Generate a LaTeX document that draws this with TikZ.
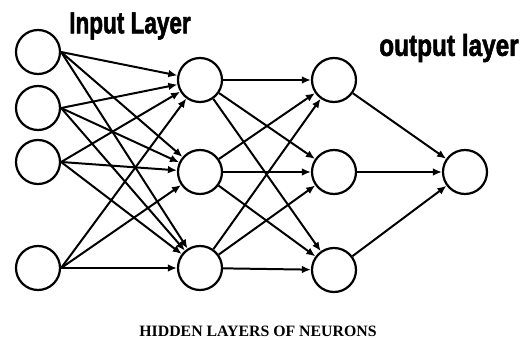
\documentclass[tikz,border=0pt]{standalone}
\usepackage{fontspec}
\usetikzlibrary{arrows.meta}
\newfontfamily\headfont{Liberation Sans}[BoldFeatures={FakeBold=2}]
\newfontfamily\capfont{Liberation Serif}

\begin{document}
\begin{tikzpicture}[
      x=0.03cm, y=-0.03cm,
      neuron/.style={draw, circle, line width=1.9pt, minimum size=1.32cm, inner sep=0pt},
      arr/.style={-{Latex[length=2.7mm, width=2.3mm]}, line width=1.7pt},
      head/.style={font=\headfont\bfseries\fontsize{26}{28}\selectfont},
    ]
    \useasboundingbox (0,0) rectangle (528,340);

    % input layer
    \node[neuron] (i1) at (38,52) {};
    \node[neuron] (i2) at (38,108) {};
    \node[neuron] (i3) at (38,162) {};
    \node[neuron] (i4) at (38,268) {};

    % hidden layers
    \node[neuron] (a1) at (200,80) {};
    \node[neuron] (a2) at (200,172) {};
    \node[neuron] (a3) at (200,268) {};
    \node[neuron] (b1) at (334,80) {};
    \node[neuron] (b2) at (334,172) {};
    \node[neuron] (b3) at (334,270) {};

    % output layer
    \node[neuron] (o) at (465,172) {};

    \foreach \i in {1,2,3,4}
      \foreach \j in {1,2,3}
        \draw[arr] (i\i.east) -- (a\j);
    \foreach \i in {1,2,3}
      \foreach \j in {1,2,3}
        \draw[arr] (a\i) -- (b\j);
    \foreach \i in {1,2,3}
      \draw[arr] (b\i) -- (o);

    \node[head] (inlab) at (130,26) {\scalebox{0.74}[1]{Input Layer}};
    \node[head] (outlab) at (449,48) {\scalebox{0.8}[1]{output layer}};
    \node[font=\capfont\bfseries\fontsize{13.5}{15}\selectfont] (hid) at (258,331) {HIDDEN LAYERS OF NEURONS};
  \end{tikzpicture}
\end{document}
